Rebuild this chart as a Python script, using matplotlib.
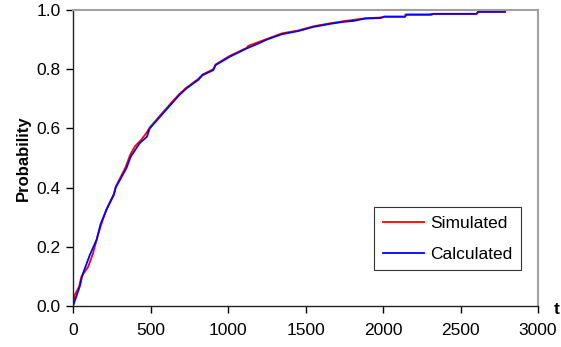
import matplotlib
matplotlib.use("Agg")
import matplotlib.pyplot as plt

plt.rcParams['font.family'] = ['Liberation Sans', 'DejaVu Sans']

# curve points
t_sim = [0, 11, 39, 54, 75, 98, 129, 161, 183, 215, 263, 276, 340, 368, 400, 441, 470,
         495, 581, 640, 686, 732, 808, 836, 905, 920, 1011, 1120, 1131, 1250, 1347,
         1454, 1551, 1658, 1744, 1800, 1884, 2002, 2006, 2142, 2145, 2300, 2314,
         2603, 2615, 2787]
p_sim = [0.0, 0.037, 0.065, 0.099, 0.115, 0.133, 0.178, 0.240, 0.277, 0.326, 0.378, 0.403,
         0.470, 0.510, 0.540, 0.562, 0.582, 0.603, 0.655, 0.690, 0.716, 0.738, 0.767,
         0.782, 0.800, 0.816, 0.845, 0.872, 0.879, 0.902, 0.921, 0.931, 0.945, 0.955,
         0.962, 0.966, 0.972, 0.975, 0.978, 0.978, 0.985, 0.985, 0.987, 0.987, 0.994, 0.994]

t_calc = [0, 43, 61, 108, 153, 178, 215, 263, 276, 344, 372, 430, 477, 495, 581, 686,
          732, 808, 836, 905, 920, 1011, 1120, 1205, 1250, 1347, 1454, 1551, 1658,
          1744, 1808, 1884, 1981, 2006, 2142, 2152, 2314, 2325, 2603, 2615, 2787]
p_calc = [0.0, 0.065, 0.105, 0.172, 0.225, 0.277, 0.324, 0.375, 0.401, 0.465, 0.504,
          0.550, 0.572, 0.600, 0.651, 0.713, 0.735, 0.764, 0.780, 0.797, 0.814, 0.842,
          0.870, 0.889, 0.900, 0.918, 0.929, 0.943, 0.953, 0.960, 0.963, 0.971, 0.973,
          0.977, 0.977, 0.984, 0.984, 0.987, 0.987, 0.994, 0.994]

x_ticks = [0, 500, 1000, 1500, 2000, 2500, 3000]
y_ticks = [0.0, 0.2, 0.4, 0.6, 0.8, 1.0]

fig = plt.figure(figsize=(5.61, 3.47), dpi=100)
ax = fig.add_axes([73 / 561, 1 - 306 / 347, 465 / 561, 296 / 347])

ax.plot(t_sim, p_sim, color='#ff0000', lw=1.3, label='Simulated')
ax.plot(t_calc, p_calc, color='#0000ff', lw=1.3, label='Calculated')

ax.set_xlim(0, 3000)
ax.set_ylim(0, 1.0)
ax.set_xticks(x_ticks)
ax.set_yticks(y_ticks)
ax.set_yticklabels(['%.1f' % v for v in y_ticks])
ax.tick_params(direction='out', length=5, width=1, labelsize=12.5, colors='black', pad=4)
ax.tick_params(axis='x', pad=7)

for s in ['left', 'bottom']:
    ax.spines[s].set_color('#222222')
    ax.spines[s].set_linewidth(1)
for s in ['top', 'right']:
    ax.spines[s].set_color('#a0a0a0')
    ax.spines[s].set_linewidth(1.5)

ax.set_ylabel('Probability', fontsize=12, fontweight='bold', labelpad=4)
fig.text(557 / 561, 1 - 310 / 347, 't', fontsize=12.5, fontweight='bold',
         ha='center', va='center')

leg = ax.legend(loc='upper left', bbox_to_anchor=(374 / 561, 1 - 207 / 347),
                bbox_transform=fig.transFigure, fontsize=12.5, frameon=True,
                fancybox=False, shadow=False, handlelength=2.4,
                handletextpad=0.35, labelspacing=0.9, borderpad=0.5, borderaxespad=0)
leg.get_frame().set_edgecolor('black')
leg.get_frame().set_linewidth(0.8)

fig.savefig('out.png', dpi=100)
